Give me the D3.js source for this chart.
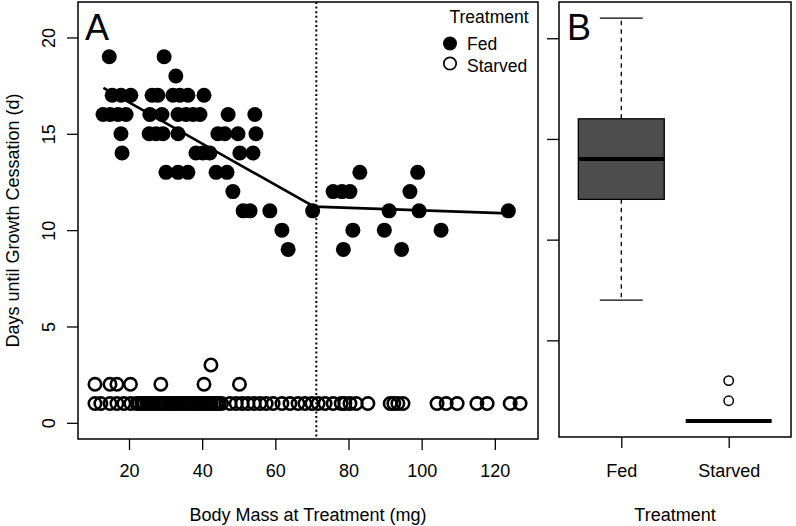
<!DOCTYPE html>
<html>
<head>
<meta charset="utf-8">
<script src="https://cdn.jsdelivr.net/npm/d3@7"></script>
<style>
  html, body { margin: 0; padding: 0; background: #fff; }
  svg { display: block; }
  text { font-family: "Liberation Sans", Arial, Helvetica, sans-serif; fill: #000; }
</style>
</head>
<body>
<svg id="chart" width="796" height="526"></svg>
<script>
// ---------------- data ----------------
// Panel A: Fed larvae (body mass in mg, days until growth cessation)
const fedMass = [
  14.6, 29.6,
  32.8,
  15.4, 17.8, 20.5, 26.3, 27.9, 32.0, 33.9, 36.1, 40.5,
  12.9, 14.8, 17.0, 19.2, 25.7, 29.0, 33.4, 35.6, 37.5, 39.4, 47.1, 54.4,
  17.8, 25.5, 27.4, 29.3, 33.4, 44.3, 46.2, 49.8, 54.7,
  18.1, 38.3, 40.2, 42.1, 50.3, 53.9,
  30.1, 33.4, 36.1, 43.8, 46.8, 83.1, 98.9,
  48.4, 75.8, 78.2, 80.4, 96.8,
  51.2, 53.1, 58.5, 70.2, 91.1, 99.3, 123.7,
  61.8, 81.2, 89.8, 105.3,
  63.5, 78.6, 94.5
];
const fedDays = [
  19, 19,
  18,
  17, 17, 17, 17, 17, 17, 17, 17, 17,
  16, 16, 16, 16, 16, 16, 16, 16, 16, 16, 16, 16,
  15, 15, 15, 15, 15, 15, 15, 15, 15,
  14, 14, 14, 14, 14, 14,
  13, 13, 13, 13, 13, 13, 13,
  12, 12, 12, 12, 12,
  11, 11, 11, 11, 11, 11, 11,
  10, 10, 10, 10,
  9, 9, 9
];
// Panel A: Starved larvae
const starvedMass = [
  10.7, 14.8, 16.7, 20.4, 28.7, 40.5, 50.2,
  42.4,
  10.7, 12.3, 14.8, 16.7, 18.6, 20.5,
  22.1, 22.8, 23.6, 24.2, 25.0, 25.6, 26.4, 27.0, 27.9, 28.5, 29.2, 29.9,
  30.7, 31.3, 32.0, 32.8, 33.4, 34.1, 34.9, 35.5, 36.2, 37.0, 37.6, 38.3,
  39.1, 39.7, 40.4, 41.2, 41.8, 42.5, 43.3, 43.9, 44.6, 45.3,
  47.6, 49.3, 50.9, 52.5, 54.2, 55.8, 57.5, 59.4, 61.8, 64.0, 66.2, 68.1,
  70.0, 71.7, 73.6, 75.8, 78.0, 79.0, 80.4, 82.1, 85.3, 91.4, 92.4, 93.5,
  94.9, 104.2, 106.7, 109.7, 115.1, 117.9, 124.2, 126.9
];
const starvedDays = [
  2, 2, 2, 2, 2, 2, 2,
  3,
  1, 1, 1, 1, 1, 1,
  1, 1, 1, 1, 1, 1, 1, 1, 1, 1, 1, 1,
  1, 1, 1, 1, 1, 1, 1, 1, 1, 1, 1, 1,
  1, 1, 1, 1, 1, 1, 1, 1, 1, 1,
  1, 1, 1, 1, 1, 1, 1, 1, 1, 1, 1, 1,
  1, 1, 1, 1, 1, 1, 1, 1, 1, 1, 1, 1,
  1, 1, 1, 1, 1, 1, 1, 1
];
// Segmented regression fit for Fed larvae
const fitMass = [13.0, 70.6, 123.7];
const fitDays = [17.38, 11.22, 10.87];
const breakpointMass = 71.2;

const xTicksA = [20, 40, 60, 80, 100, 120];
const yTicks = [0, 5, 10, 15, 20];

// Panel B: boxplot statistics
const boxGroups = ["Fed", "Starved"];
const boxMin = [7, 1];
const boxQ1 = [12, 1];
const boxMedian = [14, 1];
const boxQ3 = [16, 1];
const boxMax = [21, 1];
const outlierGroup = ["Starved", "Starved"];
const outlierValue = [2, 3];

const legendLabels = ["Fed", "Starved"];

// ---------------- drawing ----------------
const svg = d3.select("#chart");
const FONT = 18;

// ===== Panel A =====
const A = { left: 78, right: 538, top: 2, bottom: 439 };
const xA = d3.scaleLinear().domain([6.06, 131.8]).range([A.left, A.right]);
const yA = d3.scaleLinear().domain([-0.84, 21.84]).range([A.bottom, A.top]);

const gA = svg.append("g");

// x axis
const xAxisA = gA.append("g")
  .attr("transform", `translate(0,${A.bottom})`)
  .call(d3.axisBottom(xA).tickValues(xTicksA).tickSize(11).tickPadding(0).tickFormat(d3.format("d")));
xAxisA.select(".domain").remove();
xAxisA.selectAll("line").attr("stroke", "#000").attr("stroke-width", 1.3);
xAxisA.selectAll("text").attr("y", 38).attr("dy", null)
  .style("font-size", FONT + "px").style("font-family", "Liberation Sans, Arial, sans-serif");

// y axis
const yAxisA = gA.append("g")
  .attr("transform", `translate(${A.left},0)`)
  .call(d3.axisLeft(yA).tickValues(yTicks).tickSize(11).tickFormat(d3.format("d")));
yAxisA.select(".domain").remove();
yAxisA.selectAll("line").attr("stroke", "#000").attr("stroke-width", 1.3);
yAxisA.selectAll("text")
  .attr("transform", "rotate(-90)")
  .attr("x", 0).attr("y", -23).attr("dy", null)
  .attr("text-anchor", "middle")
  .style("font-size", FONT + "px").style("font-family", "Liberation Sans, Arial, sans-serif");

// dotted breakpoint line
gA.append("line")
  .attr("x1", xA(breakpointMass)).attr("x2", xA(breakpointMass))
  .attr("y1", A.top).attr("y2", A.bottom)
  .attr("stroke", "#000").attr("stroke-width", 2).attr("stroke-dasharray", "2,2.6");

// starved points (open circles)
gA.append("g").selectAll("circle")
  .data(starvedMass.map((m, i) => [m, starvedDays[i]]))
  .join("circle")
  .attr("cx", d => xA(d[0])).attr("cy", d => yA(d[1]))
  .attr("r", 6.2).attr("fill", "none").attr("stroke", "#000").attr("stroke-width", 2.6);

// fed points (filled circles)
gA.append("g").selectAll("circle")
  .data(fedMass.map((m, i) => [m, fedDays[i]]))
  .join("circle")
  .attr("cx", d => xA(d[0])).attr("cy", d => yA(d[1]))
  .attr("r", 7.5).attr("fill", "#000");

// fit line
gA.append("path")
  .datum(fitMass.map((m, i) => [m, fitDays[i]]))
  .attr("d", d3.line().x(d => xA(d[0])).y(d => yA(d[1])))
  .attr("fill", "none").attr("stroke", "#000").attr("stroke-width", 2.6);

// frame
gA.append("rect")
  .attr("x", A.left).attr("y", A.top)
  .attr("width", A.right - A.left).attr("height", A.bottom - A.top)
  .attr("fill", "none").attr("stroke", "#000").attr("stroke-width", 1.5);

// panel label
gA.append("text").attr("x", 85).attr("y", 39.5).text("A")
  .style("font-size", "36px");

// legend
const legend = gA.append("g");
legend.append("text").attr("x", 489).attr("y", 22.5).attr("text-anchor", "middle")
  .style("font-size", "17.5px").text("Treatment");
legend.selectAll("circle.lg").data(legendLabels).join("circle")
  .attr("class", "lg")
  .attr("cx", 450).attr("cy", (d, i) => 43.5 + i * 20)
  .attr("r", (d, i) => i === 0 ? 7 : 6.2)
  .attr("fill", (d, i) => i === 0 ? "#000" : "none")
  .attr("stroke", "#000").attr("stroke-width", (d, i) => i === 0 ? 0 : 1.7);
legend.selectAll("text.lg").data(legendLabels).join("text")
  .attr("class", "lg")
  .attr("x", 467).attr("y", (d, i) => 50 + i * 21.5)
  .style("font-size", "17.5px").text(d => d);

// axis titles
svg.append("text").attr("x", (A.left + A.right) / 2).attr("y", 521)
  .attr("text-anchor", "middle").style("font-size", FONT + "px")
  .text("Body Mass at Treatment (mg)");
svg.append("text")
  .attr("transform", `translate(19,${(A.top + A.bottom) / 2}) rotate(-90)`)
  .attr("text-anchor", "middle").style("font-size", FONT + "px")
  .text("Days until Growth Cessation (d)");

// ===== Panel B =====
const B = { left: 559, right: 791, top: 2, bottom: 437 };
const unitB = 107.4;
const xB = d3.scalePoint().domain(boxGroups).range([B.left + 0.58 * unitB, B.left + 1.58 * unitB]);
const yB = d3.scaleLinear().domain([0.2, 21.8]).range([B.bottom, B.top]);

const gB = svg.append("g");

const xAxisB = gB.append("g")
  .attr("transform", `translate(0,${B.bottom})`)
  .call(d3.axisBottom(xB).tickSize(11).tickPadding(0));
xAxisB.select(".domain").remove();
xAxisB.selectAll("line").attr("stroke", "#000").attr("stroke-width", 1.3);
xAxisB.selectAll("text").attr("y", 40).attr("dy", null)
  .style("font-size", FONT + "px").style("font-family", "Liberation Sans, Arial, sans-serif");

const yAxisB = gB.append("g")
  .attr("transform", `translate(${B.left},0)`)
  .call(d3.axisLeft(yB).tickValues([5, 10, 15, 20]).tickSize(12).tickFormat(""));
yAxisB.select(".domain").remove();
yAxisB.selectAll("line").attr("stroke", "#000").attr("stroke-width", 1.3);

const boxData = boxGroups.map((g, i) => ({
  g, min: boxMin[i], q1: boxQ1[i], med: boxMedian[i], q3: boxQ3[i], max: boxMax[i]
}));
const halfBox = 0.4 * unitB, halfCap = 0.2 * unitB;

const boxes = gB.append("g").selectAll("g").data(boxData).join("g");
// whiskers
boxes.filter(d => d.max > d.q3).append("line")
  .attr("x1", d => xB(d.g)).attr("x2", d => xB(d.g))
  .attr("y1", d => yB(d.q3)).attr("y2", d => yB(d.max))
  .attr("stroke", "#000").attr("stroke-width", 1.3).attr("stroke-dasharray", "4.5,4");
boxes.filter(d => d.min < d.q1).append("line")
  .attr("x1", d => xB(d.g)).attr("x2", d => xB(d.g))
  .attr("y1", d => yB(d.q1)).attr("y2", d => yB(d.min))
  .attr("stroke", "#000").attr("stroke-width", 1.3).attr("stroke-dasharray", "4.5,4");
// caps
boxes.filter(d => d.max > d.q3).append("line")
  .attr("x1", d => xB(d.g) - halfCap).attr("x2", d => xB(d.g) + halfCap)
  .attr("y1", d => yB(d.max)).attr("y2", d => yB(d.max))
  .attr("stroke", "#000").attr("stroke-width", 1.3);
boxes.filter(d => d.min < d.q1).append("line")
  .attr("x1", d => xB(d.g) - halfCap).attr("x2", d => xB(d.g) + halfCap)
  .attr("y1", d => yB(d.min)).attr("y2", d => yB(d.min))
  .attr("stroke", "#000").attr("stroke-width", 1.3);
// box
boxes.filter(d => d.q3 > d.q1).append("rect")
  .attr("x", d => xB(d.g) - halfBox).attr("width", 2 * halfBox)
  .attr("y", d => yB(d.q3)).attr("height", d => yB(d.q1) - yB(d.q3))
  .attr("fill", "#4d4d4d").attr("stroke", "#000").attr("stroke-width", 1.3);
// median
boxes.append("line")
  .attr("x1", d => xB(d.g) - halfBox).attr("x2", d => xB(d.g) + halfBox)
  .attr("y1", d => yB(d.med)).attr("y2", d => yB(d.med))
  .attr("stroke", "#000").attr("stroke-width", 4);

// outliers
gB.append("g").selectAll("circle")
  .data(outlierValue.map((v, i) => [outlierGroup[i], v]))
  .join("circle")
  .attr("cx", d => xB(d[0])).attr("cy", d => yB(d[1]))
  .attr("r", 4.7).attr("fill", "none").attr("stroke", "#000").attr("stroke-width", 1.5);

gB.append("rect")
  .attr("x", B.left).attr("y", B.top)
  .attr("width", B.right - B.left).attr("height", B.bottom - B.top)
  .attr("fill", "none").attr("stroke", "#000").attr("stroke-width", 1.5);

gB.append("text").attr("x", 567).attr("y", 39.5).text("B").style("font-size", "36px");

svg.append("text").attr("x", (B.left + B.right) / 2).attr("y", 521)
  .attr("text-anchor", "middle").style("font-size", FONT + "px")
  .text("Treatment");
</script>
</body>
</html>
